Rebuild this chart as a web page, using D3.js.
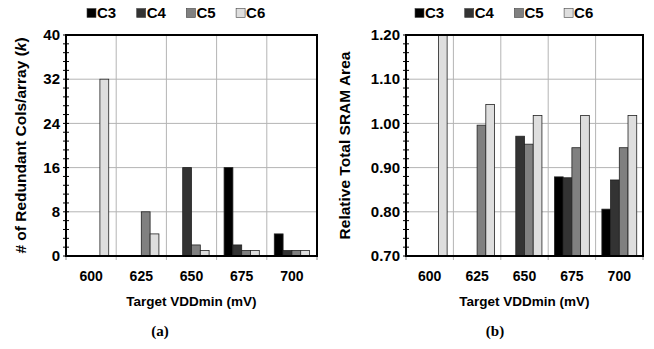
<!DOCTYPE html>
<html>
<head>
<meta charset="utf-8">
<script src="https://cdn.jsdelivr.net/npm/d3@7"></script>
<style>
  body { margin: 0; background: #fff; }
  svg { display: block; }
</style>
</head>
<body>
<div id="chart"></div>
<script>
// categories + series
const vdd = ["600", "625", "650", "675", "700"];
const series = ["C3", "C4", "C5", "C6"];
const colors = ["#000000", "#333333", "#808080", "#dedede"];

// panel (a): # of redundant cols per array, one array per series
const colsC3 = [0, 0, 0, 16, 4];
const colsC4 = [0, 0, 16, 2, 1];
const colsC5 = [0, 8, 2, 1, 1];
const colsC6 = [32, 4, 1, 1, 1];
const colsTicks = [0, 8, 16, 24, 32, 40];

// panel (b): relative total SRAM area (values under 0.70 are off the axis)
const areaC3 = [0, 0, 0, 0.879, 0.806];
const areaC4 = [0, 0, 0.971, 0.877, 0.872];
const areaC5 = [0, 0.996, 0.953, 0.945, 0.945];
const areaC6 = [1.25, 1.043, 1.018, 1.018, 1.018];
const areaTicks = [0.70, 0.80, 0.90, 1.00, 1.10, 1.20];

const width = 654;
const height = 349;
const font = "'Liberation Sans', Arial, sans-serif";

const svg = d3.select("#chart").append("svg")
    .attr("width", width)
    .attr("height", height);

function panel(opt) {
  const g = svg.append("g");
  const top = 35, bottom = 256;

  const x0 = d3.scaleBand().domain(vdd).range([opt.left, opt.right]).padding(0);
  const x1 = d3.scaleBand().domain(series).range([0, x0.bandwidth()])
      .paddingInner(0).paddingOuter(opt.outer);
  const y = d3.scaleLinear().domain(opt.domain).range([bottom, top]);

  const clipId = "clip-" + opt.tag;
  svg.append("clipPath").attr("id", clipId)
    .append("rect")
      .attr("x", opt.left).attr("y", top)
      .attr("width", opt.right - opt.left).attr("height", bottom - top);

  // gridlines
  g.append("g").selectAll("line.h")
    .data(opt.ticks)
    .join("line")
      .attr("x1", opt.left).attr("x2", opt.right)
      .attr("y1", d => y(d)).attr("y2", d => y(d))
      .attr("stroke", "#b4b4b4").attr("stroke-width", 1);

  g.append("g").selectAll("line.v")
    .data(vdd.slice(1))
    .join("line")
      .attr("x1", d => x0(d)).attr("x2", d => x0(d))
      .attr("y1", top).attr("y2", bottom + 4)
      .attr("stroke", "#b4b4b4").attr("stroke-width", 1);

  // bars
  const rows = vdd.map((v, i) => ({ v, vals: opt.data.map(s => s[i]) }));
  g.append("g").attr("clip-path", `url(#${clipId})`)
    .selectAll("g")
    .data(rows)
    .join("g")
      .attr("transform", d => `translate(${x0(d.v)},0)`)
    .selectAll("rect")
    .data(d => d.vals.map((val, j) => ({ s: series[j], val, j })))
    .join("rect")
      .filter(d => d.val > opt.domain[0])
      .attr("x", d => x1(d.s))
      .attr("width", x1.bandwidth())
      .attr("y", d => y(d.val))
      .attr("height", d => bottom - y(d.val))
      .attr("fill", d => colors[d.j])
      .attr("stroke", "#222")
      .attr("stroke-width", 0.8);

  // minor + major ticks on y axis
  const step = (opt.ticks[1] - opt.ticks[0]) / 5;
  const minors = d3.range(opt.domain[0], opt.domain[1] + step / 2, step);
  g.append("g").selectAll("line")
    .data(minors)
    .join("line")
      .attr("x1", opt.left - 3).attr("x2", opt.left + 3)
      .attr("y1", d => y(d)).attr("y2", d => y(d))
      .attr("stroke", "#000").attr("stroke-width", 1);

  // x tick marks at the plot edges
  g.append("g").selectAll("line")
    .data([opt.left, opt.right])
    .join("line")
      .attr("x1", d => d).attr("x2", d => d)
      .attr("y1", bottom).attr("y2", bottom + 4)
      .attr("stroke", "#888");

  // frame
  g.append("rect")
    .attr("x", opt.left).attr("y", top)
    .attr("width", opt.right - opt.left).attr("height", bottom - top)
    .attr("fill", "none").attr("stroke", "#000").attr("stroke-width", 2);

  // y labels
  g.append("g").selectAll("text")
    .data(opt.ticks)
    .join("text")
      .attr("x", opt.left - 6)
      .attr("y", d => y(d))
      .attr("dy", "0.35em")
      .attr("text-anchor", "end")
      .style("font-family", font).style("font-weight", "bold").style("font-size", "15px")
      .text(opt.fmt);

  // x labels
  g.append("g").selectAll("text")
    .data(vdd)
    .join("text")
      .attr("x", d => x0(d) + x0.bandwidth() / 2)
      .attr("y", 281)
      .attr("text-anchor", "middle")
      .style("font-family", font).style("font-weight", "bold").style("font-size", "14px")
      .text(d => d);

  const mid = (opt.left + opt.right) / 2;
  g.append("text")
    .attr("x", mid).attr("y", 306)
    .attr("text-anchor", "middle")
    .style("font-family", font).style("font-weight", "bold").style("font-size", "13.5px")
    .text("Target VDDmin (mV)");

  g.append("text")
    .attr("x", opt.capX).attr("y", 336)
    .attr("text-anchor", "middle")
    .style("font-family", "'Liberation Serif', 'Times New Roman', serif")
    .style("font-weight", "bold").style("font-size", "15px")
    .text(opt.caption);

  // y axis title
  const yt = g.append("text")
    .attr("transform", `translate(${opt.titleX},${(top + bottom) / 2}) rotate(-90)`)
    .attr("text-anchor", "middle")
    .style("font-family", font).style("font-weight", "bold").style("font-size", "15.5px");
  yt.append("tspan").text(opt.title);
  if (opt.titleItalic) {
    yt.append("tspan").text(" (");
    yt.append("tspan").style("font-style", "italic").text(opt.titleItalic);
    yt.append("tspan").text(")");
  }

  // legend
  const lg = g.append("g").attr("transform", `translate(${opt.legendX},13)`);
  series.forEach((s, i) => {
    const item = lg.append("g").attr("transform", `translate(${i * 49.7},0)`);
    item.append("rect")
      .attr("x", 0).attr("y", -4.5).attr("width", 9).attr("height", 9)
      .attr("fill", colors[i]).attr("stroke", "#444").attr("stroke-width", 0.6);
    item.append("text")
      .attr("x", 10).attr("y", 0).attr("dy", "0.36em")
      .style("font-family", font).style("font-weight", "bold").style("font-size", "15px")
      .text(s);
  });
}

panel({
  tag: "a", left: 66, right: 317, outer: 0.85,
  domain: [0, 40], ticks: colsTicks, fmt: d => d,
  data: [colsC3, colsC4, colsC5, colsC6],
  title: "# of Redundant Cols/array", titleItalic: "k", titleX: 26,
  caption: "(a)", capX: 160, legendX: 87
});

panel({
  tag: "b", left: 406, right: 643, outer: 0.72,
  domain: [0.7, 1.2], ticks: areaTicks, fmt: d => d.toFixed(2),
  data: [areaC3, areaC4, areaC5, areaC6],
  title: "Relative Total SRAM Area", titleItalic: null, titleX: 350,
  caption: "(b)", capX: 495, legendX: 415
});
</script>
</body>
</html>
